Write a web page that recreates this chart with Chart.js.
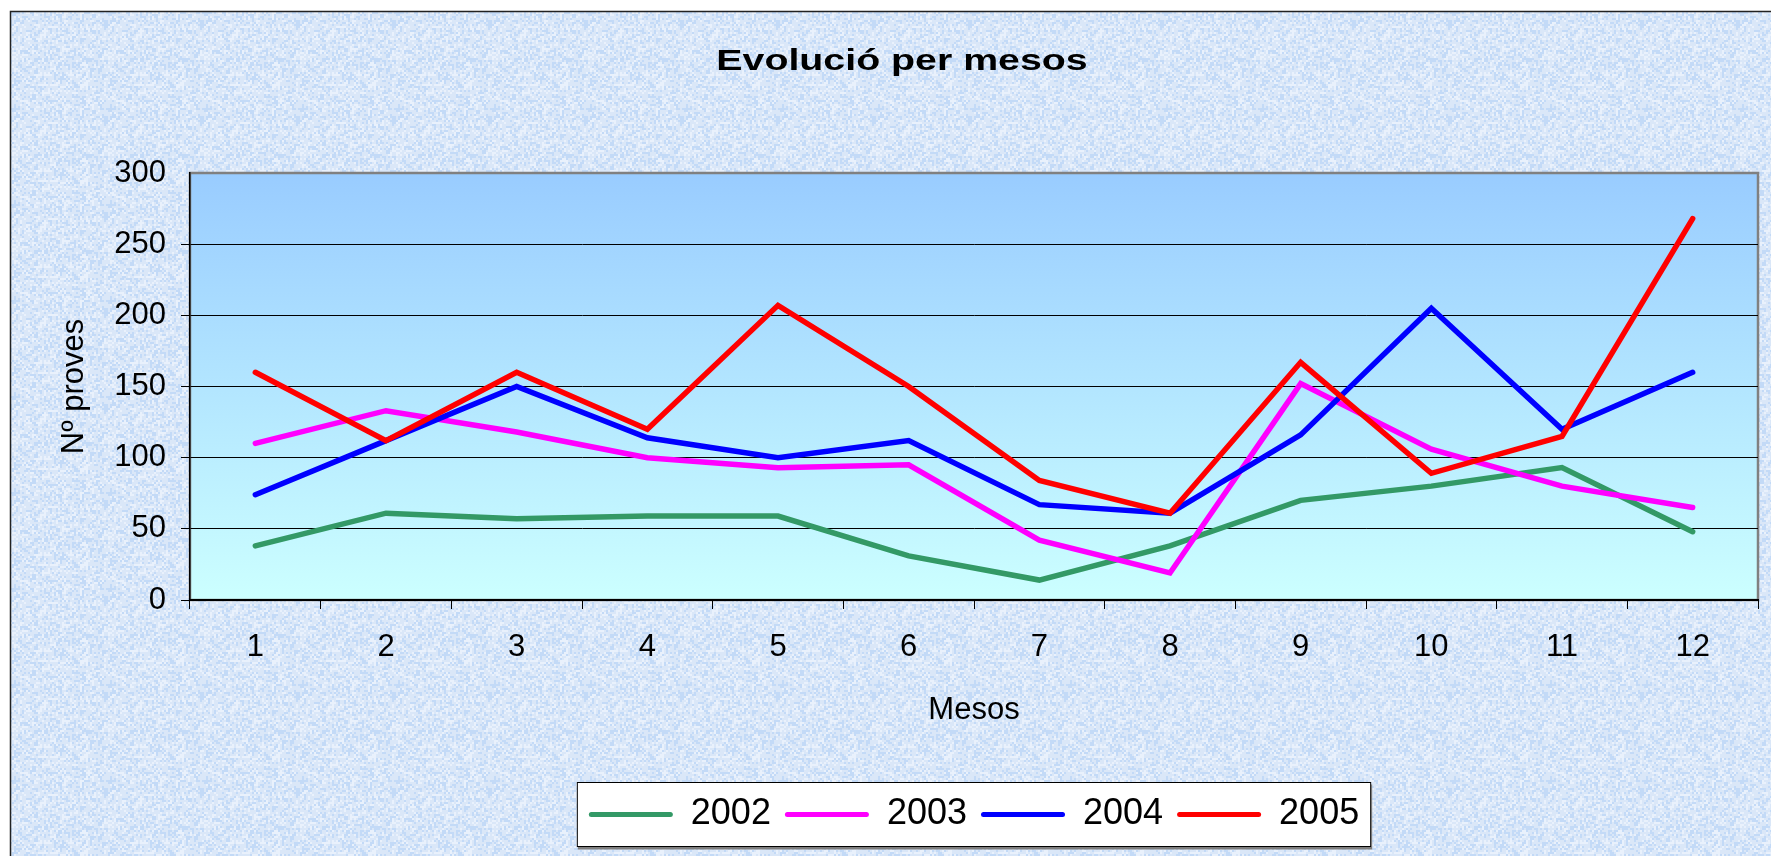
<!DOCTYPE html>
<html>
<head>
<meta charset="utf-8">
<title>Evolució per mesos</title>
<script src="https://cdn.jsdelivr.net/npm/chart.js@4.4.1/dist/chart.umd.min.js"></script>
<style>
  html, body { margin: 0; padding: 0; background: #fff; }
  #wrap { width: 1771px; height: 856px; }
</style>
</head>
<body>
<div id="wrap"><canvas id="chart" width="1771" height="856"></canvas></div>
<script>
// monthly counts per year
const mesos = ['1', '2', '3', '4', '5', '6', '7', '8', '9', '10', '11', '12'];
const anys = ['2002', '2003', '2004', '2005'];
const proves2002 = [38, 61, 57, 59, 59, 31, 14, 38, 70, 80, 93, 48];
const proves2003 = [110, 133, 118, 100, 93, 95, 42, 19, 152, 106, 80, 65];
const proves2004 = [74, 112, 150, 114, 100, 112, 67, 61, 116, 205, 120, 160];
const proves2005 = [160, 112, 160, 120, 207, 150, 84, 61, 167, 89, 115, 268];
const colors = ['#339966', '#ff00ff', '#0000ff', '#ff0000'];

const FONT = "'Liberation Sans', Arial, sans-serif";

// blue tissue-paper background, small tile repeated
function paperPattern(ctx) {
  var c = document.createElement('canvas');
  c.width = 96; c.height = 96;
  var p = c.getContext('2d');
  p.fillStyle = '#dae7f8';
  p.fillRect(0, 0, 96, 96);
  for (var y = 0; y < 96; y += 2) {
    for (var x = 0; x < 96; x += 2) {
      var h = Math.sin(x * 12.9898 + y * 78.233) * 43758.5453;
      var f = h - Math.floor(h);
      if (f < 0.3) {
        p.fillStyle = 'rgba(176,208,246,0.55)';
        p.fillRect(x, y, 2, 2);
      } else if (f > 0.78) {
        p.fillStyle = 'rgba(240,245,253,0.7)';
        p.fillRect(x, y, 2, 2);
      }
    }
  }
  return ctx.createPattern(c, 'repeat');
}

var backdrop = {
  id: 'backdrop',
  afterLayout: function (chart) {
    // center the legend under the plot area
    var lg = chart.legend, a = chart.chartArea;
    lg.left = a.left;
    lg.right = a.right;
    lg.width = a.right - a.left;

    // title is drawn stretched sideways, centred a bit right of the canvas middle
    var t = chart.titleBlock;
    if (t && !t._wide) {
      var orig = t.draw;
      t.draw = function () {
        var c = this.ctx;
        var mid = (this.left + this.right) / 2;
        c.save();
        c.translate(902, 0);
        c.scale(1.31, 1);
        c.translate(-mid, 0);
        orig.call(this);
        c.restore();
      };
      t._wide = true;
    }
  },
  beforeDraw: function (chart) {
    var ctx = chart.ctx, a = chart.chartArea;
    var W = chart.width, H = chart.height;
    ctx.save();
    ctx.fillStyle = '#fff';
    ctx.fillRect(0, 0, W, H);
    ctx.fillStyle = paperPattern(ctx);
    ctx.fillRect(10, 11, W - 10, H - 11);
    ctx.strokeStyle = '#222';
    ctx.lineWidth = 1.5;
    ctx.beginPath();
    ctx.moveTo(10.5, H);
    ctx.lineTo(10.5, 11.5);
    ctx.lineTo(W, 11.5);
    ctx.stroke();

    // plot area
    var g = ctx.createLinearGradient(0, a.top, 0, a.bottom);
    g.addColorStop(0, '#99ccff');
    g.addColorStop(1, '#ccffff');
    ctx.fillStyle = g;
    ctx.fillRect(a.left, a.top, a.right - a.left, a.bottom - a.top);
    ctx.strokeStyle = '#808080';
    ctx.lineWidth = 2.5;
    ctx.strokeRect(a.left, a.top, a.right - a.left, a.bottom - a.top);

    // legend frame
    var hb = chart.legend.legendHitBoxes;
    if (hb && hb.length) {
      var l = hb[0].left - 12;
      var r = hb[hb.length - 1].left + hb[hb.length - 1].width + 12;
      var cy = hb[0].top + hb[0].height / 2;
      ctx.fillStyle = '#7f7f7f';
      ctx.fillRect(l + 1, cy - 32 + 2, r - l, 65);
      ctx.fillStyle = '#fff';
      ctx.fillRect(l, cy - 32.5, r - l, 65);
      ctx.strokeStyle = '#000';
      ctx.lineWidth = 1;
      ctx.strokeRect(l + 0.5, cy - 32, r - l - 1, 64);
    }
    ctx.restore();
  }
};

var series = [proves2002, proves2003, proves2004, proves2005];
var datasets = series.map(function (d, i) {
  return {
    label: anys[i],
    data: d,
    borderColor: colors[i],
    backgroundColor: colors[i],
    borderWidth: 5.5,
    borderCapStyle: 'round',
    borderJoinStyle: 'miter',
    pointRadius: 0,
    tension: 0,
    order: 4 - i
  };
});

var chart = new Chart('chart', {
  type: 'line',
  data: { labels: mesos, datasets: datasets },
  plugins: [backdrop],
  options: {
    responsive: false,
    animation: false,
    events: [],
    layout: { padding: { top: 11, left: 10, right: 13, bottom: 13.5 } },
    plugins: {
      tooltip: { enabled: false },
      title: {
        display: true,
        text: 'Evolució per mesos',
        color: '#000',
        font: { family: FONT, size: 30, weight: 'bold' },
        padding: { top: 32.5, bottom: 93.5 }
      },
      legend: {
        position: 'bottom',
        labels: {
          color: '#000',
          font: { family: FONT, size: 36 },
          boxWidth: 84,
          boxHeight: 5,
          padding: 14,
          useBorderRadius: true,
          borderRadius: 2.5,
          generateLabels: function (chart) {
            return chart.data.datasets.map(function (ds, i) {
              return {
                text: ds.label,
                fillStyle: ds.borderColor,
                strokeStyle: ds.borderColor,
                lineWidth: 0,
                borderRadius: 2.5,
                hidden: false,
                datasetIndex: i
              };
            });
          }
        }
      }
    },
    scales: {
      x: {
        offset: true,
        afterFit: function (scale) { scale.height = 182.5; },
        grid: { offset: true, drawOnChartArea: false, tickLength: 9, color: '#000', lineWidth: 1 },
        border: { display: true, color: '#000', width: 2 },
        ticks: { color: '#000', font: { family: FONT, size: 31 }, padding: 20, maxRotation: 0 },
        title: {
          display: true,
          text: 'Mesos',
          color: '#000',
          font: { family: FONT, size: 31 },
          padding: { top: 0, bottom: 53.5 }
        }
      },
      y: {
        min: 0,
        max: 300,
        afterFit: function (scale) { scale.width = 180; },
        grid: {
          tickLength: 9,
          lineWidth: 1,
          color: function (c) { return c.tick && c.tick.value === 300 ? 'rgba(0,0,0,0)' : '#000'; }
        },
        border: { display: true, color: '#000', width: 1.5 },
        ticks: { stepSize: 50, color: '#000', font: { family: FONT, size: 31 }, padding: 15 },
        title: {
          display: true,
          text: 'Nº proves',
          color: '#000',
          font: { family: FONT, size: 31 },
          padding: { top: 46, bottom: 0 }
        }
      }
    }
  }
});
</script>
</body>
</html>
